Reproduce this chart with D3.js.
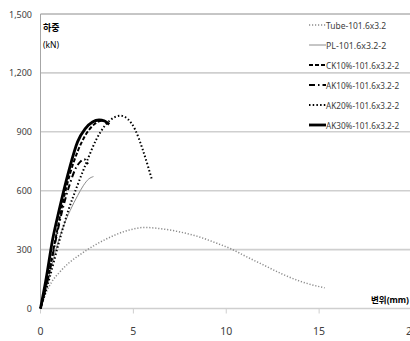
<!DOCTYPE html>
<html lang="ko">
	<head>
		<meta charset="utf-8">
		<title>하중-변위 곡선</title>
		<script type="text/javascript" src="https://cdn.jsdelivr.net/npm/d3@7"></script>
		<style type="text/css">
			body { margin: 0; background: #fff; }
			text { font-family: "Noto Sans", "Noto Sans CJK KR", sans-serif; }
		</style>
	</head>
	<body>
		<script type="text/javascript">

			//Width and height
			var w = 410;
			var h = 341;

			//Series (displacement mm, load kN)
			var seriesNames = ["Tube-101.6x3.2", "PL-101.6x3.2-2", "CK10%-101.6x3.2-2",
				"AK10%-101.6x3.2-2", "AK20%-101.6x3.2-2", "AK30%-101.6x3.2-2"];

			var tube = [[0,0],[0.3,80],[0.6,135],[1,182],[1.5,230],[2,266],[2.5,298],[3,327],
				[3.5,352],[4,374],[4.5,392],[5,405],[5.6,413],[6.5,406],[7.5,390],[8.5,366],
				[9.5,332],[10.3,302],[11,268],[12,222],[13,176],[14,138],[15.3,105]];
			var pl = [[0,0],[0.4,140],[0.8,290],[1.2,410],[1.6,500],[2,575],[2.3,625],[2.6,660],[2.85,672]];
			var ck10 = [[0,0],[0.4,160],[0.8,350],[1.2,540],[1.6,690],[2,800],[2.4,880],[2.8,930],
				[3.2,955],[3.4,958],[3.6,940]];
			var ak10 = [[0,0],[0.4,150],[0.8,340],[1.2,510],[1.6,640],[1.9,715],[2.15,748],[2.35,760],[2.55,735]];
			var ak20 = [[0,0],[0.5,160],[1,340],[1.5,500],[2,630],[2.5,750],[3,860],[3.5,935],
				[4,975],[4.3,982],[4.7,965],[5.1,910],[5.5,810],[5.8,720],[6,655]];
			var ak30 = [[0,0],[0.3,150],[0.65,350],[1,500],[1.2,580],[1.55,710],[2,850],[2.4,915],
				[2.8,950],[3.15,960],[3.45,955],[3.7,938]];
			var seriesData = [tube, pl, ck10, ak10, ak20, ak30];

			//Ticks
			var xTicks = [0, 5, 10, 15, 20];
			var yTicks = [0, 300, 600, 900, 1200, 1500];

			//Line styles per series
			var styles = [
				{ stroke: "#8c8c8c", width: 1.5, dash: "1.2,1.8" },
				{ stroke: "#8c8c8c", width: 1, dash: null },
				{ stroke: "#000", width: 2, dash: "4,2" },
				{ stroke: "#000", width: 2, dash: "6,3,1.5,3" },
				{ stroke: "#000", width: 2, dash: "1.5,2.2" },
				{ stroke: "#000", width: 2.8, dash: null }
			];

			var xScale = d3.scaleLinear()
							.domain([0, 20])
							.range([40.5, 412]);

			var yScale = d3.scaleLinear()
							.domain([0, 1500])
							.range([308.5, 14]);

			//Create SVG element
			var svg = d3.select("body")
						.append("svg")
						.attr("width", w)
						.attr("height", h);

			//Gridlines
			svg.selectAll("line.grid")
			   .data(yTicks)
			   .enter()
			   .append("line")
			   .attr("class", "grid")
			   .attr("x1", xScale(0))
			   .attr("x2", w)
			   .attr("y1", function(d) { return yScale(d); })
			   .attr("y2", function(d) { return yScale(d); })
			   .attr("stroke", function(d) { return d === 1500 ? "#8c8c8c" : "#cfcfcf"; })
			   .attr("stroke-width", function(d) { return d === 1500 ? 1 : 1.6; });

			//Y axis line
			svg.append("line")
			   .attr("x1", xScale(0)).attr("x2", xScale(0))
			   .attr("y1", yScale(1500)).attr("y2", yScale(0))
			   .attr("stroke", "#a6a6a6")
			   .attr("stroke-width", 1);

			//X tick marks
			svg.selectAll("line.xtick")
			   .data(xTicks)
			   .enter()
			   .append("line")
			   .attr("class", "xtick")
			   .attr("x1", function(d) { return xScale(d); })
			   .attr("x2", function(d) { return xScale(d); })
			   .attr("y1", yScale(0))
			   .attr("y2", yScale(0) + 5)
			   .attr("stroke", "#cfcfcf")
			   .attr("stroke-width", 1);

			//Y tick labels
			svg.selectAll("text.ylab")
			   .data(yTicks)
			   .enter()
			   .append("text")
			   .attr("class", "ylab")
			   .attr("x", 32)
			   .attr("y", function(d) { return yScale(d) + 3.5; })
			   .attr("text-anchor", "end")
			   .attr("font-size", "9px")
			   .attr("fill", "#404040")
			   .text(function(d) { return d3.format(",")(d); });

			//X tick labels ("20" runs off the right edge as in the original)
			svg.selectAll("text.xlab")
			   .data(xTicks)
			   .enter()
			   .append("text")
			   .attr("class", "xlab")
			   .attr("x", function(d) { return xScale(d); })
			   .attr("y", 335)
			   .attr("text-anchor", "middle")
			   .attr("font-size", "10.5px")
			   .attr("fill", "#404040")
			   .text(function(d) { return d; });

			//Axis titles
			svg.append("text")
			   .attr("x", 43).attr("y", 31)
			   .attr("font-size", "9px")
			   .attr("font-weight", "bold")
			   .attr("fill", "#000")
			   .text("하중");
			svg.append("text")
			   .attr("x", 43).attr("y", 48)
			   .attr("font-size", "8.5px")
			   .attr("fill", "#000")
			   .text("(kN)");
			svg.append("text")
			   .attr("x", 409).attr("y", 303)
			   .attr("text-anchor", "end")
			   .attr("font-size", "8.5px")
			   .attr("font-weight", "bold")
			   .attr("fill", "#000")
			   .text("변위(mm)");

			//Curves
			var line = d3.line()
						.x(function(d) { return xScale(d[0]); })
						.y(function(d) { return yScale(d[1]); })
						.curve(d3.curveMonotoneX);

			svg.selectAll("path.series")
			   .data(seriesData)
			   .enter()
			   .append("path")
			   .attr("class", "series")
			   .attr("d", line)
			   .attr("fill", "none")
			   .attr("stroke", function(d, i) { return styles[i].stroke; })
			   .attr("stroke-width", function(d, i) { return styles[i].width; })
			   .attr("stroke-dasharray", function(d, i) { return styles[i].dash; });

			//Legend
			var legend = svg.selectAll("g.legend")
							.data(seriesNames)
							.enter()
							.append("g")
							.attr("class", "legend")
							.attr("transform", function(d, i) {
								return "translate(309," + (25 + i * 20) + ")";
							});

			legend.append("line")
				  .attr("x1", 0).attr("x2", 17)
				  .attr("y1", 0).attr("y2", 0)
				  .attr("stroke", function(d, i) { return styles[i].stroke; })
				  .attr("stroke-width", function(d, i) { return styles[i].width; })
				  .attr("stroke-dasharray", function(d, i) { return styles[i].dash; });

			legend.append("text")
				  .attr("x", 17)
				  .attr("y", 3.5)
				  .attr("font-size", "9.5px")
				  .attr("fill", "#404040")
				  .attr("textLength", function(d) { return d.length * 4.3; })
				  .attr("lengthAdjust", "spacingAndGlyphs")
				  .text(function(d) { return d; });

		</script>
	</body>
</html>
